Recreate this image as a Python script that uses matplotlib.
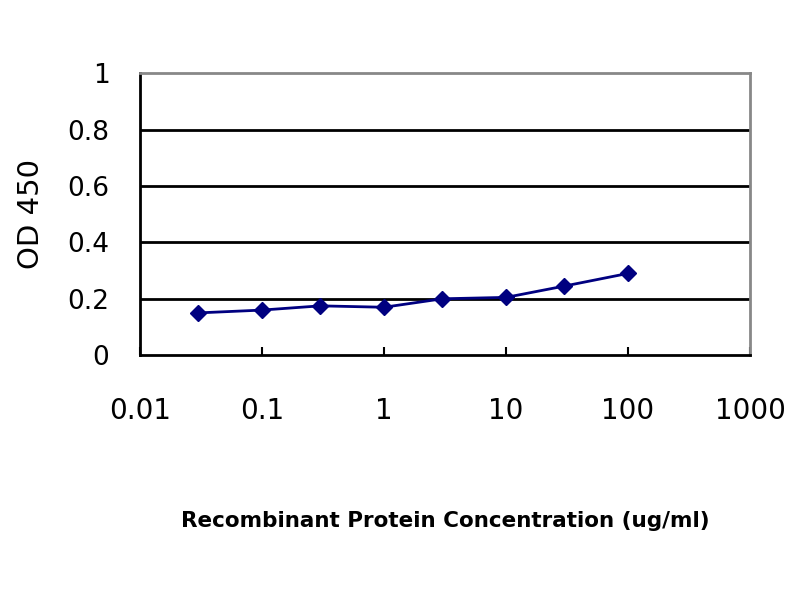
import matplotlib
matplotlib.use("Agg")
import matplotlib.pyplot as plt
from matplotlib.ticker import FixedLocator, FixedFormatter

# values
conc = [0.03, 0.1, 0.3, 1, 3, 10, 30, 100]
od450 = [0.150, 0.160, 0.175, 0.170, 0.200, 0.205, 0.245, 0.290]

x_ticks = [0.01, 0.1, 1, 10, 100, 1000]
x_tick_labels = ["0.01", "0.1", "1", "10", "100", "1000"]
y_ticks = [0, 0.2, 0.4, 0.6, 0.8, 1.0]
y_tick_labels = ["0", "0.2", "0.4", "0.6", "0.8", "1"]

NAVY = "#000080"

fig = plt.figure(figsize=(8, 6), dpi=100)
ax = fig.add_axes([0.175, 0.408, 0.7625, 0.47])

# horizontal gridlines
for y in y_ticks[1:-1]:
    ax.axhline(y, color="black", lw=2.0, zorder=1)

ax.plot(conc, od450, color=NAVY, lw=2, marker="D", markersize=8,
        markerfacecolor=NAVY, markeredgecolor=NAVY, zorder=3)

ax.set_xscale("log")
ax.set_xlim(0.01, 1000)
ax.set_ylim(0, 1)

ax.xaxis.set_major_locator(FixedLocator(x_ticks))
ax.xaxis.set_major_formatter(FixedFormatter(x_tick_labels))
ax.xaxis.set_minor_locator(FixedLocator([]))
ax.yaxis.set_major_locator(FixedLocator(y_ticks))
ax.yaxis.set_major_formatter(FixedFormatter(y_tick_labels))

ax.tick_params(axis="x", direction="in", length=6, width=1.5, pad=30, labelsize=20)
ax.tick_params(axis="y", length=0, pad=22, labelsize=19)

for side in ["left", "bottom"]:
    ax.spines[side].set_color("black")
    ax.spines[side].set_linewidth(2)
for side in ["top", "right"]:
    ax.spines[side].set_color("#888888")
    ax.spines[side].set_linewidth(2)

ax.set_xlabel("Recombinant Protein Concentration (ug/ml)", fontsize=15.5,
              fontweight="semibold", labelpad=62)
ax.set_ylabel("OD 450", fontsize=21, labelpad=16)

fig.savefig("out.png", dpi=100)
